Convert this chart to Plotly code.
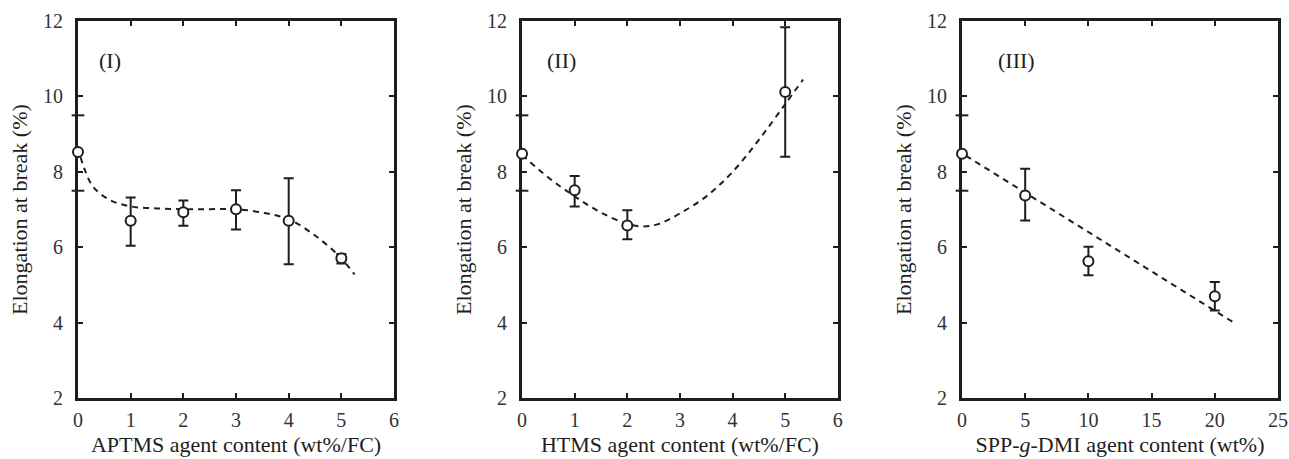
import plotly.graph_objects as go

# ---- Panel I: APTMS ----
aptms_x = [0, 1, 2, 3, 4, 5]
aptms_y = [8.53, 6.70, 6.93, 7.01, 6.70, 5.71]
aptms_err_plus = [0.0, 0.62, 0.31, 0.50, 1.13, 0.11]
aptms_err_minus = [0.0, 0.66, 0.36, 0.54, 1.15, 0.14]
aptms_fit_x = [0.05, 0.13, 0.29, 0.61, 1.02, 1.5, 2.0, 2.5, 3.0, 3.57, 4.02, 4.52, 4.96, 5.25]
aptms_fit_y = [8.39, 8.05, 7.60, 7.25, 7.08, 7.03, 7.01, 7.01, 7.01, 6.90, 6.73, 6.29, 5.76, 5.28]

# ---- Panel II: HTMS ----
htms_x = [0, 1, 2, 5]
htms_y = [8.48, 7.51, 6.58, 10.12]
htms_err_plus = [0.0, 0.38, 0.40, 1.72]
htms_err_minus = [0.0, 0.43, 0.37, 1.72]
htms_fit_x = [0.0, 0.5, 1.0, 1.5, 2.0, 2.3, 2.6, 3.0, 3.5, 4.0, 4.5, 5.0, 5.34]
htms_fit_y = [8.45, 7.85, 7.35, 6.92, 6.62, 6.55, 6.62, 6.90, 7.35, 8.00, 8.85, 9.80, 10.45]

# ---- Panel III: SPP-g-DMI ----
spp_x = [0, 5, 10, 20]
spp_y = [8.48, 7.37, 5.63, 4.70]
spp_err_plus = [0.0, 0.71, 0.38, 0.38]
spp_err_minus = [0.0, 0.66, 0.37, 0.38]
spp_fit_x = [0.3, 21.6]
spp_fit_y = [8.43, 3.98]

x_titles = ["APTMS agent content (wt%/FC)", "HTMS agent content (wt%/FC)",
            "SPP-<i>g</i>-DMI agent content (wt%)"]
panel_labels = ["(I)", "(II)", "(III)"]
panel_label_x = [0.6, 0.75, 4.3]
x_ranges = [[0, 6], [0, 6], [0, 25]]
x_dticks = [1, 1, 5]
y_ticks = [2, 4, 6, 8, 10, 12]

FONT = "Liberation Serif"
INK = "#1e1e1e"

datasets = [
    (aptms_x, aptms_y, aptms_err_plus, aptms_err_minus, aptms_fit_x, aptms_fit_y),
    (htms_x, htms_y, htms_err_plus, htms_err_minus, htms_fit_x, htms_fit_y),
    (spp_x, spp_y, spp_err_plus, spp_err_minus, spp_fit_x, spp_fit_y),
]

domains = [[0.0605, 0.3057], [0.405, 0.650], [0.7463, 0.9915]]
ydom = [0.1329, 0.954]

fig = go.Figure()
for i, (px, py, ep, em, fx, fy) in enumerate(datasets):
    n = "" if i == 0 else str(i + 1)
    xa, ya = "x" + n, "y" + n
    fig.add_trace(go.Scatter(x=fx, y=fy, mode="lines", xaxis=xa, yaxis=ya,
                             line=dict(color=INK, width=2, dash="6px,5px", shape="spline"),
                             showlegend=False, hoverinfo="skip"))
    fig.add_trace(go.Scatter(x=px, y=py, mode="markers", xaxis=xa, yaxis=ya, cliponaxis=False,
                             marker=dict(symbol="circle", size=10, color="white",
                                         line=dict(color=INK, width=2)),
                             error_y=dict(type="data", symmetric=False, array=ep, arrayminus=em,
                                          color=INK, thickness=2, width=5),
                             showlegend=False))
    axcommon = dict(showline=True, linewidth=3, linecolor=INK, mirror="ticks",
                    ticks="inside", ticklen=5, tickwidth=2, tickcolor=INK,
                    showgrid=False, zeroline=False, layer="below traces", automargin=False,
                    tickfont=dict(family=FONT, size=20, color="#333333"))
    fig.layout["xaxis" + n] = dict(domain=domains[i], range=x_ranges[i], dtick=x_dticks[i],
                                   tick0=0, anchor=ya, ticklabelstandoff=2,
                                   title=dict(text=x_titles[i], font=dict(family=FONT, size=22, color=INK),
                                              standoff=7),
                                   **axcommon)
    fig.layout["yaxis" + n] = dict(domain=ydom, range=[2, 12], tickvals=y_ticks, anchor=xa,
                                   ticklabelstandoff=8,
                                   title=dict(text="Elongation at break (%)",
                                              font=dict(family=FONT, size=22, color=INK),
                                              standoff=10),
                                   **axcommon)
    fig.add_annotation(x=panel_label_x[i], y=10.95, xref=xa, yref=ya, text=panel_labels[i],
                       showarrow=False, font=dict(family=FONT, size=22, color=INK))
    for yv in (9.5, 7.5):
        fig.add_shape(type="line", xref=xa + " domain", yref=ya, x0=-0.02, x1=0.02,
                      y0=yv, y1=yv, line=dict(color=INK, width=2))

fig.update_layout(width=1289, height=459, margin=dict(l=0, r=0, t=0, b=0),
                  plot_bgcolor="white", paper_bgcolor="white")
fig.write_html("out.html")
